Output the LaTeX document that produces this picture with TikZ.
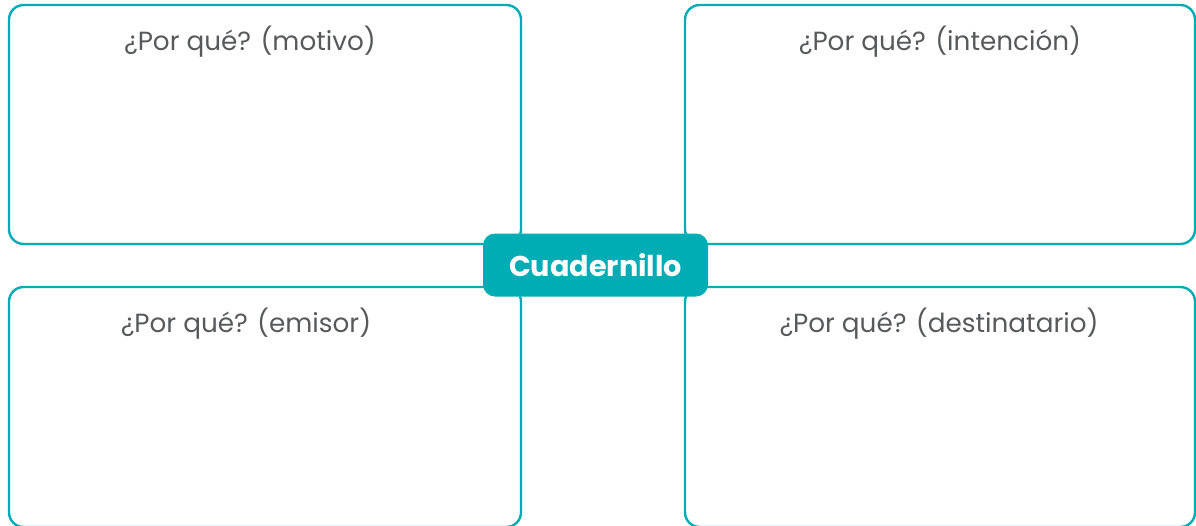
\documentclass[tikz,border=0pt]{standalone}
\usepackage{fontspec}
\setmainfont{Poppins}
\usetikzlibrary{positioning}
\definecolor{cteal}{HTML}{00ADB5}
\definecolor{ctext}{HTML}{58595B}

\begin{document}
\begin{tikzpicture}[
  x=0.75pt, y=-0.75pt,
  panel/.style={draw=cteal, line width=1.8pt, rounded corners=11pt},
  head/.style={font=\fontsize{19.7}{22}\selectfont, text=ctext, anchor=base},
  hub/.style={fill=cteal, rounded corners=9pt, minimum width=168.75pt,
              minimum height=47.25pt, text=white, font=\fontsize{21.5}{24}\selectfont\bfseries},
  ]
\useasboundingbox (0,0) rectangle (1196,525);
\begin{scope}
\clip (0,0) rectangle (1196,525);
% four panels
\draw[panel] (9,5) rectangle (521,244);
\draw[panel] (685,5) rectangle (1195,244);
\draw[panel] (9,287) rectangle (521,527);
\draw[panel] (685,287) rectangle (1195,527);
\end{scope}

\node[head] (motivo) at (250,50) {¿Por qué? (motivo)};
\node[head] (intencion) at (940,50) {¿Por qué? (intención)};
\node[head] (emisor) at (246,332) {¿Por qué? (emisor)};
\node[head] (destino) at (939,332) {¿Por qué? (destinatario)};

\node[hub] (cuaderno) at (595.5,265) {Cuadernillo};
\end{tikzpicture}
\end{document}
